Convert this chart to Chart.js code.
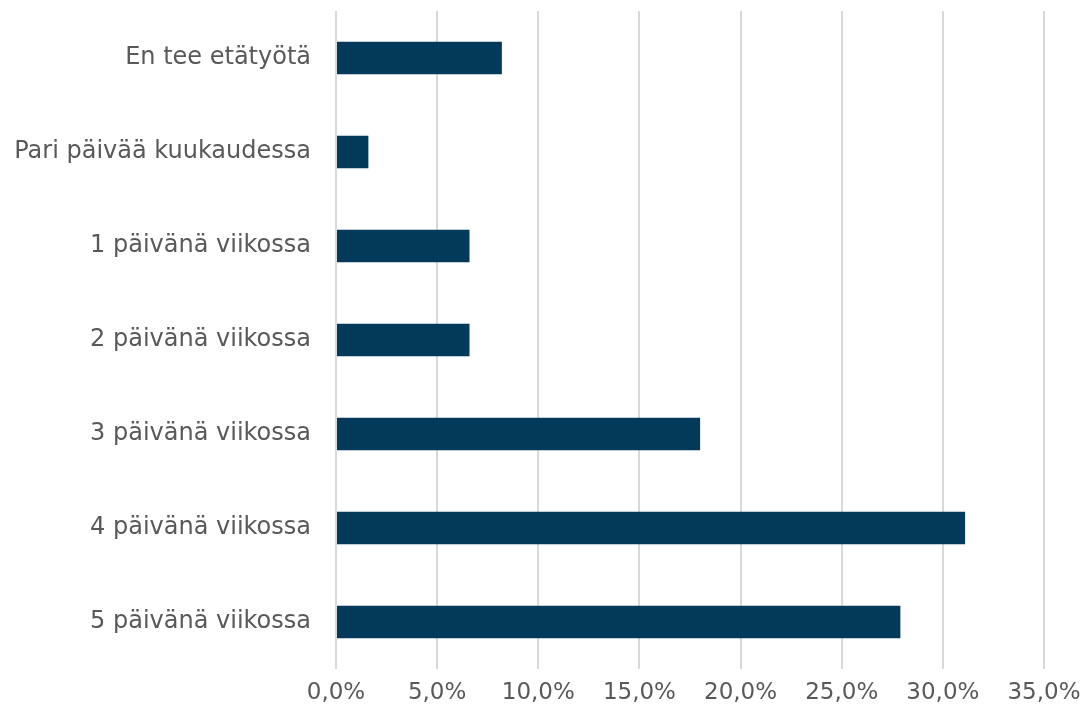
<!DOCTYPE html>
<html>
<head>
<meta charset="utf-8">
<script src="https://cdn.jsdelivr.net/npm/chart.js@4/dist/chart.umd.min.js"></script>
<style>
html,body{margin:0;padding:0;background:#fff;}
#wrap{width:1084px;height:709px;position:relative;}
</style>
</head>
<body>
<div id="wrap"><canvas id="c" width="1084" height="709"></canvas></div>
<script>
const categories = ["En tee etätyötä","Pari päivää kuukaudessa","1 päivänä viikossa","2 päivänä viikossa","3 päivänä viikossa","4 päivänä viikossa","5 päivänä viikossa"];
const values = [8.2, 1.6, 6.6, 6.6, 18.0, 31.1, 27.9];
const xMin = 0, xMax = 35, xStep = 5;

const FONT = "'DejaVu Sans', Verdana, sans-serif";
new Chart(document.getElementById('c'), {
  type: 'bar',
  data: {
    labels: categories,
    datasets: [{
      data: values,
      backgroundColor: '#033a59',
      borderWidth: 0,
      categoryPercentage: 1,
      barPercentage: 0.345
    }]
  },
  options: {
    indexAxis: 'y',
    responsive: false,
    animation: false,
    devicePixelRatio: 1,
    layout: { padding: { left: 0, right: 40, top: 11, bottom: 0 } },
    plugins: { legend: { display: false }, tooltip: { enabled: false } },
    scales: {
      x: {
        min: xMin, max: xMax,
        ticks: {
          stepSize: xStep,
          color: '#595959',
          font: { family: FONT, size: 23 },
          padding: 10,
          maxRotation: 0,
          callback: v => v.toFixed(1).replace('.', ',') + '%'
        },
        grid: { color: '#d9d9d9', lineWidth: 2, drawTicks: false },
        border: { display: false },
        afterFit: s => { s.height = 40; s.paddingLeft = 0; s.paddingRight = 0; }
      },
      y: {
        ticks: {
          color: '#595959',
          font: { family: FONT, size: 24 },
          padding: 25
        },
        grid: { display: false, drawTicks: false },
        border: { display: false },
        afterFit: s => { s.width = 336; s.paddingTop = 0; s.paddingBottom = 0; }
      }
    }
  }
});
</script>
</body>
</html>
